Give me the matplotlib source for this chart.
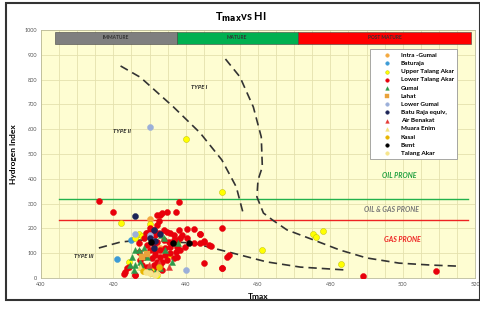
import matplotlib
matplotlib.use("Agg")
import matplotlib.pyplot as plt
from matplotlib.patches import Rectangle

plt.rcParams['font.family'] = ['Lato', 'DejaVu Sans']

# ---------------- data ----------------
# maturity zones (Tmax boundaries)
zone_names = ['IMMATURE', 'MATURE', 'POST MATURE']
zone_edges = [404, 437.5, 471, 519]
zone_colors = ['#7f7f7f', '#00b050', '#ff0000']

# prone lines (HI)
oil_prone_hi = 320
gas_prone_hi = 232
prone_x = [405, 518]

type12_x = [422, 427.5, 436.6, 444, 450, 454, 456]
type12_y = [855, 809, 690, 585, 476, 367, 255]
type1_x = [451, 455, 458.7, 460.9, 461.2, 460, 459.7, 461.5, 464, 468, 474, 482.6, 490, 499, 508, 515]
type1_y = [883, 811, 690, 569, 448, 395, 327, 262, 234, 194, 161, 113, 81, 60, 52, 48]
type3_x = [416, 422, 427.5, 436.6, 442, 449.6, 455, 462.4, 471.7, 484.6]
type3_y = [121, 145, 153, 145, 141, 113, 93, 65, 44, 32]

# samples (Tmax, HI) per formation
intra_gumai_t = [430.0, 433.0]
intra_gumai_hi = [236, 120]
baturaja_t = [425.0, 421.0]
baturaja_hi = [153, 75]
upper_ta_t = [422, 430.1, 427, 428, 424.3, 427.9, 429.3, 431.2, 432.1, 435.3, 437.6,
              440.1, 450.1, 461.1, 475.2, 476.1, 478.1, 483, 426, 430.5]
upper_ta_hi = [220, 216, 177, 170, 66, 46, 39, 39, 12, 93, 140,
               562, 345, 113, 177, 164, 190, 56, 160, 20]
lower_ta_t = [416, 420, 438.1, 432.1, 433, 433.5, 434.9, 437.2, 432.5, 432.1, 431.2, 430.2,
              429.3, 428.9, 431.6, 432.5, 433.9, 434.8, 435.8, 436.7, 438.1, 439, 440.4, 442.2,
              444.1, 440.4, 438.5, 437.6, 436.7, 435.3, 433.9, 432.1, 431.2, 429.3, 430.2, 431.6,
              433, 434.4, 435.8, 437.6, 438.5, 437.2, 435.8, 434.4, 433, 431.6, 430.7, 432.1,
              433.5, 434.8, 436.7, 437.6, 433, 431.2, 429.3, 427.9, 427.5, 428.4, 427, 432.1,
              433.5, 430.2, 426.1, 424.3, 423.3, 423.8, 423, 426, 445, 450, 450.1, 451.4,
              451.9, 445, 446.4, 444.1, 442.2, 439.9, 444.1, 445, 447.1, 450.1, 489, 509.2,
              428.5, 430, 427]
lower_ta_hi = [312, 267, 305, 254, 254, 261, 265, 265, 231, 214, 193, 187,
               180, 183, 173, 180, 193, 187, 180, 173, 193, 173, 196, 196,
               177, 160, 160, 153, 153, 146, 153, 146, 133, 133, 113, 106,
               113, 119, 126, 126, 113, 106, 99, 93, 86, 93, 79, 66,
               66, 72, 79, 86, 52, 52, 46, 52, 72, 86, 106, 39,
               32, 25, 12, 46, 25, 39, 16, 12, 59, 39, 203, 86,
               93, 146, 133, 140, 142, 126, 176, 149, 130, 42, 9, 29,
               160, 200, 140]
gumai_t = [426.1, 427, 428.4, 433.9, 434.4, 436.2, 425.2, 427.5, 425.6, 429.8, 431.6, 433,
           429.3, 428, 426, 424.7, 433.2, 438]
gumai_hi = [113, 113, 119, 160, 113, 66, 83, 66, 32, 43, 25, 39,
            86, 46, 52, 52, 175, 140]
lahat_t = [427.9, 429.2]
lahat_hi = [83, 95]
lower_gumai_t = [426.1, 430.1, 440.2, 430.1]
lower_gumai_hi = [177, 173, 32, 608]
batu_raja_eq_t = [426.1, 431.2, 431.2, 430.2, 431.5, 433]
batu_raja_eq_hi = [251, 193, 119, 160, 150, 176]
air_benakat_t = [429.8, 432.5, 435.3]
air_benakat_hi = [52, 59, 43]
muara_enim_t = [427.5, 432.1]
muara_enim_hi = [43, 25]
kasai_t = [432.6, 428.2]
kasai_hi = [43, 30]
bsmt_t = [436.5, 441, 430.4]
bsmt_hi = [142, 140, 147]
talang_akar_t = [430.2, 431.6, 429]
talang_akar_hi = [19, 12, 25]

# ---------------- figure ----------------
fig = plt.figure(figsize=(4.81, 3.09), dpi=100)
ax = fig.add_axes([41 / 481, 1 - 278 / 309, 434 / 481, 248 / 309])
ax.set_facecolor('#fefdd2')

ax.set_xlim(400, 520)
ax.set_ylim(0, 1000)
ax.set_xticks(range(400, 521, 20))
ax.set_xticks(range(400, 521, 5), minor=True)
ax.set_yticks(range(0, 1001, 100))
ax.grid(True, which='both', color='#e4e1ae', linewidth=0.6)
ax.set_axisbelow(True)
ax.tick_params(which='both', length=0, labelsize=4, labelcolor='#555555', pad=3)
for s in ax.spines.values():
    s.set_color('#bbbb99')
    s.set_linewidth(0.6)

ax.set_xlabel('Tmax', fontsize=6, fontweight='bold', labelpad=4)
ax.set_ylabel('Hydrogen Index', fontsize=6, fontweight='bold', labelpad=5)
fig.text(0.5, 0.945, r'T$_{\mathbf{max}}$vs HI', ha='center', va='center',
         fontsize=8, fontweight='bold')

# maturity bar
for name, left, right, col in zip(zone_names, zone_edges[:-1], zone_edges[1:], zone_colors):
    ax.barh(968, right - left, left=left, height=50, color=col, edgecolor='#444444', linewidth=0.4)
    ax.text((left + right) / 2, 968, name, ha='center', va='center', fontsize=3.5,
            fontweight='bold', color='#333333')

# prone lines
ax.plot(prone_x, [oil_prone_hi] * 2, color='#22b14c', lw=1)
ax.plot(prone_x, [gas_prone_hi] * 2, color='#ee2222', lw=1)
ax.text(499, 415, 'OIL PRONE', color='#22a040', fontsize=5, fontstyle='italic',
        fontweight='bold', ha='center', va='center')
ax.text(497, 278, 'OIL & GAS PRONE', color='#777777', fontsize=5, fontstyle='italic',
        fontweight='bold', ha='center', va='center')
ax.text(500, 157, 'GAS PRONE', color='#ee2222', fontsize=5, fontstyle='italic',
        fontweight='bold', ha='center', va='center')

# kerogen type curves
for cx, cy in [(type12_x, type12_y), (type1_x, type1_y), (type3_x, type3_y)]:
    ax.plot(cx, cy, color='#333333', lw=1.2, ls=(0, (5, 3)))
ax.text(443.8, 770, 'TYPE I', fontsize=4.2, fontstyle='italic', fontweight='bold',
        ha='center', va='center', color='#222222')
ax.text(422.5, 589, 'TYPE II', fontsize=4.2, fontstyle='italic', fontweight='bold',
        ha='center', va='center', color='#222222')
ax.text(411.7, 85, 'TYPE III', fontsize=4.2, fontstyle='italic', fontweight='bold',
        ha='center', va='center', color='#222222')

# samples
series = [
    ('Intra -Gumai', intra_gumai_t, intra_gumai_hi, 'o', '#f4a93f'),
    ('Baturaja', baturaja_t, baturaja_hi, 'o', '#3c9bd6'),
    ('Upper Talang Akar', upper_ta_t, upper_ta_hi, 'o', '#ffff00'),
    ('Lower Talang Akar', lower_ta_t, lower_ta_hi, 'o', '#e8000b'),
    ('Gumai', gumai_t, gumai_hi, '^', '#2e9a4a'),
    ('Lahat', lahat_t, lahat_hi, 's', '#e9a23b'),
    ('Lower Gumai', lower_gumai_t, lower_gumai_hi, 'o', '#9bafd9'),
    ('Batu Raja equiv,', batu_raja_eq_t, batu_raja_eq_hi, 'o', '#1c2457'),
    ('Air Benakat', air_benakat_t, air_benakat_hi, '^', '#e53935'),
    ('Muara Enim', muara_enim_t, muara_enim_hi, '^', '#f4e27a'),
    ('Kasai', kasai_t, kasai_hi, 'o', '#e8b400'),
    ('Bsmt', bsmt_t, bsmt_hi, 'o', '#000000'),
    ('Talang Akar', talang_akar_t, talang_akar_hi, 'o', '#f7e58c'),
]
for label, xs, ys, mk, col in series:
    edge = '#b5b500' if col == '#ffff00' else col
    ax.scatter(xs, ys, s=19, marker=mk, color=col, edgecolors=edge, linewidths=0.3,
               label=label, zorder=3)

leg = ax.legend(loc='upper left', bbox_to_anchor=(0.751, 0.935), fontsize=4.6,
                frameon=True, fancybox=False, edgecolor='#999999', framealpha=1,
                handlelength=4.2, handletextpad=0.1, labelspacing=0.42,
                borderpad=0.5, markerscale=0.6, prop={'weight': 'bold', 'size': 4.6})
leg.get_frame().set_linewidth(0.6)

# outer border
fig.patches.append(Rectangle((0.012, 0.028), 0.985, 0.962, transform=fig.transFigure,
                             fill=False, edgecolor='#333333', linewidth=1.5))

fig.savefig('out.png', dpi=100)
